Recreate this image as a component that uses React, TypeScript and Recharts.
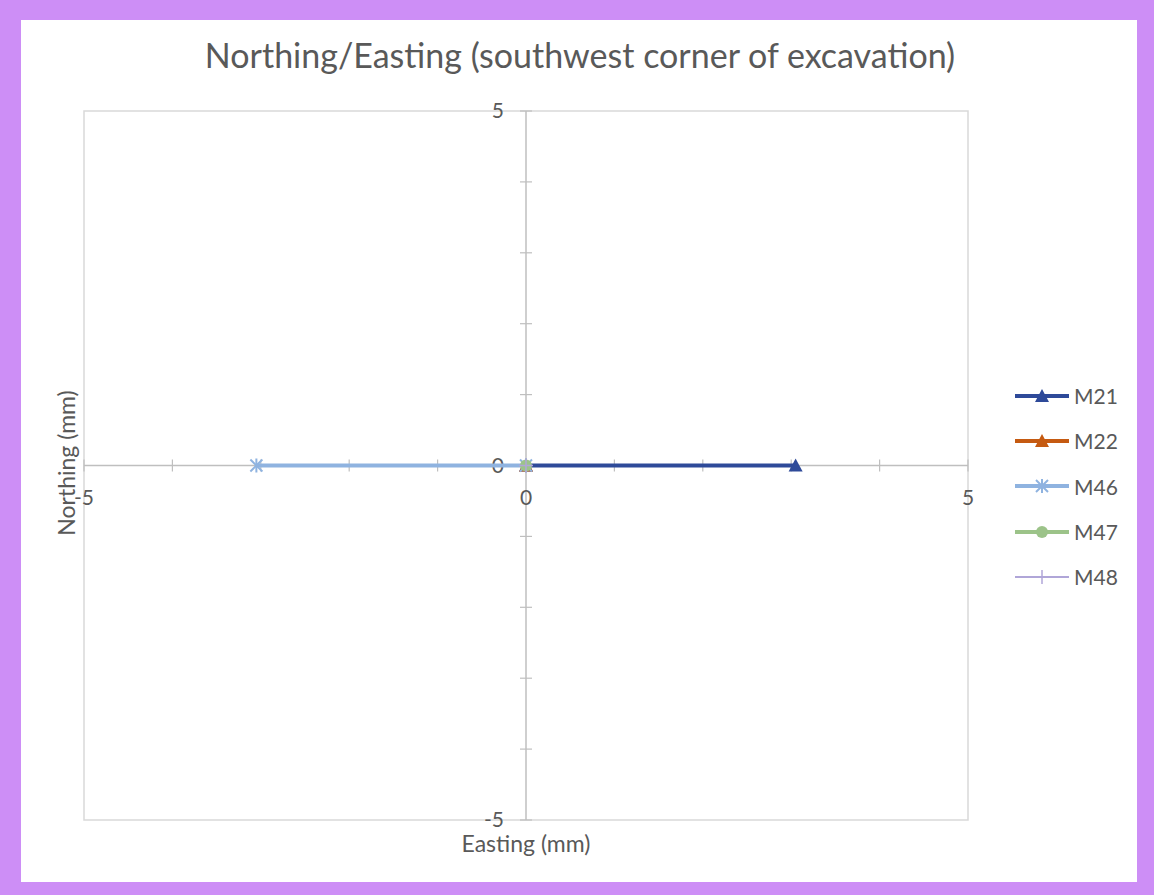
import React from 'react'
import { ScatterChart, Scatter, XAxis, YAxis, ReferenceLine, ReferenceArea, ReferenceDot } from 'recharts'

const FONT = 'Lato, "Open Sans", sans-serif'
const TEXT = '#595959'

// series values (mm)
const M21_EASTING = [0, 3.05]
const M21_NORTHING = [0, 0]
const M22_EASTING = [0]
const M22_NORTHING = [0]
const M46_EASTING = [0, -3.05]
const M46_NORTHING = [0, 0]
const M47_EASTING = [0]
const M47_NORTHING = [0]
const M48_EASTING = [0]
const M48_NORTHING = [0]

const MINOR_TICKS = [-5, -4, -3, -2, -1, 1, 2, 3, 4, 5]
const X_LABELS = [-5, 0, 5]
const Y_LABELS = [-5, 0, 5]

const toPoints = (xs: number[], ys: number[]) => xs.map((x, i) => ({ x, y: ys[i] }))

const triangle = (fill: string) => (p: any) => (
  <path d={`M${p.cx},${p.cy - 7} L${p.cx + 7},${p.cy + 6} L${p.cx - 7},${p.cy + 6} Z`} fill={fill} />
)
const star = (color: string) => (p: any) => (
  <g stroke={color} strokeWidth={2}>
    <line x1={p.cx - 6} y1={p.cy - 6} x2={p.cx + 6} y2={p.cy + 6} />
    <line x1={p.cx - 6} y1={p.cy + 6} x2={p.cx + 6} y2={p.cy - 6} />
    <line x1={p.cx} y1={p.cy - 7} x2={p.cx} y2={p.cy + 7} />
  </g>
)
const circle = (fill: string) => (p: any) => <circle cx={p.cx} cy={p.cy} r={6} fill={fill} />
const plus = (color: string) => (p: any) => (
  <g stroke={color} strokeWidth={1.5}>
    <line x1={p.cx - 7} y1={p.cy} x2={p.cx + 7} y2={p.cy} />
    <line x1={p.cx} y1={p.cy - 7} x2={p.cx} y2={p.cy + 7} />
  </g>
)

const SERIES = [
  { name: 'M21', color: '#2e4a99', data: toPoints(M21_EASTING, M21_NORTHING), marker: triangle('#2e4a99') },
  { name: 'M22', color: '#c55a11', data: toPoints(M22_EASTING, M22_NORTHING), marker: triangle('#c55a11') },
  { name: 'M46', color: '#8fb3e0', data: toPoints(M46_EASTING, M46_NORTHING), marker: star('#8fb3e0') },
  { name: 'M47', color: '#9cc389', data: toPoints(M47_EASTING, M47_NORTHING), marker: circle('#9cc389') },
  { name: 'M48', color: '#b0a6d8', data: toPoints(M48_EASTING, M48_NORTHING), marker: plus('#b0a6d8') },
]

const LegendBox = () => (
  <div style={{ position: 'absolute', left: 1012, top: 373, fontFamily: FONT, fontSize: 21, color: TEXT }}>
    {SERIES.map(s => (
      <div key={s.name} style={{ display: 'flex', alignItems: 'center', height: 45.3 }}>
        <svg width={60} height={20}>
          <line x1={3} y1={10} x2={57} y2={10} stroke={s.color} strokeWidth={s.name === 'M48' ? 2 : 4} />
          {s.marker({ cx: 30, cy: 10 })}
        </svg>
        <span style={{ marginLeft: 2 }}>{s.name}</span>
      </div>
    ))}
  </div>
)

export default function App() {
  return (
    <div style={{ position: 'absolute', left: 0, top: 0, width: 1154, height: 895, background: '#cd8ef6' }}>
      <div style={{ position: 'absolute', left: 21, top: 20, width: 1116, height: 862, background: '#ffffff' }} />
      <div style={{ position: 'absolute', left: 0, top: 34, width: 1160, textAlign: 'center', fontFamily: FONT, fontSize: 34, color: TEXT }}>
        Northing/Easting (southwest corner of excavation)
      </div>
      <div style={{ position: 'absolute', left: 0, top: 0 }}>
        <ScatterChart width={1154} height={895} margin={{ top: 111, right: 186, bottom: 75, left: 84 }}>
          <XAxis type="number" dataKey="x" domain={[-5, 5]} hide />
          <YAxis type="number" dataKey="y" domain={[-5, 5]} hide />
          <ReferenceArea x1={-5} x2={5} y1={-5} y2={5} fill="none" stroke="#d9d9d9" strokeWidth={1.5} ifOverflow="visible" />
          <ReferenceLine x={0} stroke="#bfbfbf" strokeWidth={1.5} />
          <ReferenceLine y={0} stroke="#bfbfbf" strokeWidth={1.5} />
          {MINOR_TICKS.map(v => (
            <ReferenceDot key={'xt' + v} x={v} y={0} ifOverflow="visible"
              shape={(p: any) => <line x1={p.cx} y1={p.cy - 6} x2={p.cx} y2={p.cy + 6} stroke="#bfbfbf" strokeWidth={1.2} />} />
          ))}
          {MINOR_TICKS.map(v => (
            <ReferenceDot key={'yt' + v} x={0} y={v} ifOverflow="visible"
              shape={(p: any) => <line x1={p.cx - 6} y1={p.cy} x2={p.cx + 6} y2={p.cy} stroke="#bfbfbf" strokeWidth={1.2} />} />
          ))}
          {X_LABELS.map(v => (
            <ReferenceDot key={'xl' + v} x={v} y={0} ifOverflow="visible"
              shape={(p: any) => (
                <text x={p.cx} y={p.cy + 39} textAnchor="middle" fontFamily={FONT} fontSize={21} fill={TEXT}>{v}</text>
              )} />
          ))}
          {Y_LABELS.map(v => (
            <ReferenceDot key={'yl' + v} x={0} y={v} ifOverflow="visible"
              shape={(p: any) => (
                <text x={p.cx - 22} y={p.cy + 7} textAnchor="end" fontFamily={FONT} fontSize={21} fill={TEXT}>{v}</text>
              )} />
          ))}
          {SERIES.map(s => (
            <Scatter key={s.name} name={s.name} data={s.data} isAnimationActive={false}
              line={{ stroke: s.color, strokeWidth: 4 }} lineType="joint"
              shape={s.marker} />
          ))}
        </ScatterChart>
      </div>
      <div style={{ position: 'absolute', left: 0, top: 829, width: 1052, textAlign: 'center', fontFamily: FONT, fontSize: 23, color: TEXT }}>
        Easting (mm)
      </div>
      <div style={{ position: 'absolute', left: 66, top: 463, transform: 'translate(-50%, -50%) rotate(-90deg)', whiteSpace: 'nowrap', fontFamily: FONT, fontSize: 23, color: TEXT }}>
        Northing (mm)
      </div>
      <LegendBox />
    </div>
  )
}
